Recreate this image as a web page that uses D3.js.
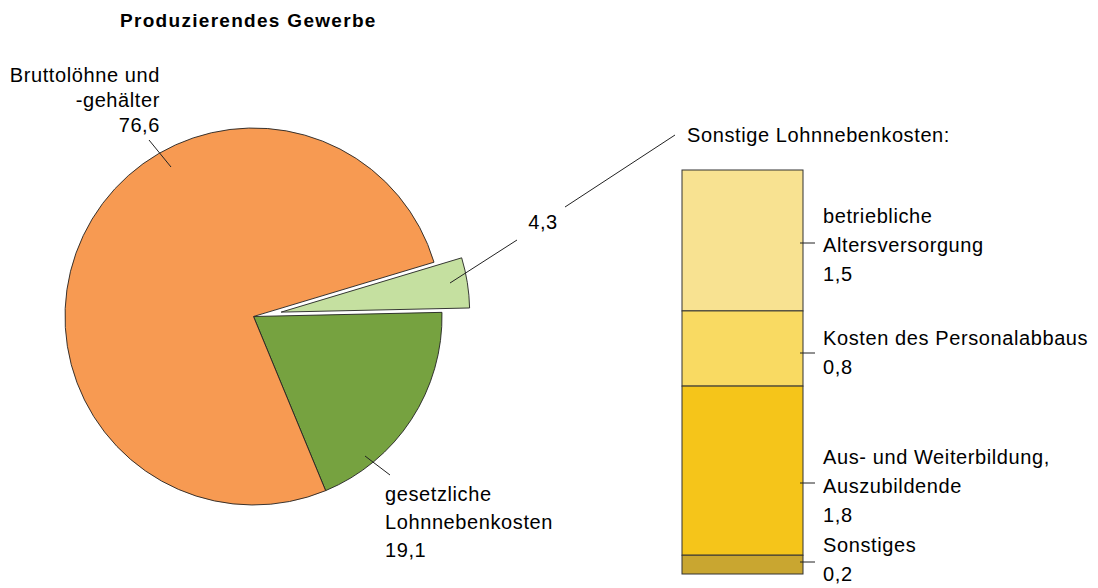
<!DOCTYPE html>
<html><head><meta charset="utf-8">
<script src="https://cdn.jsdelivr.net/npm/d3@7"></script>
<style>
html,body{margin:0;padding:0;background:#fff;}
svg text{font-family:"Liberation Sans",Arial,sans-serif;fill:#000;}
</style></head>
<body><svg id="c" width="1098" height="588"></svg>
<script>
// ---- data ----
const title = "Produzierendes Gewerbe";
const pieCategories = ["Sonstige Lohnnebenkosten", "gesetzliche Lohnnebenkosten", "Bruttolöhne und -gehälter"];
const pieValues = [4.3, 19.1, 76.6];
const pieColors = ["#C5E0A0", "#76A240", "#F79A52"];
const barCategories = ["betriebliche Altersversorgung", "Kosten des Personalabbaus", "Aus- und Weiterbildung, Auszubildende", "Sonstiges"];
const barValues = [1.5, 0.8, 1.8, 0.2];
const barColors = ["#F8E291", "#F9DA62", "#F5C51A", "#C9A630"];
const barLabelLines = [["betriebliche", "Altersversorgung", "1,5"], ["Kosten des Personalabbaus", "0,8"], ["Aus- und Weiterbildung,", "Auszubildende", "1,8"], ["Sonstiges", "0,2"]];

// ---- layout ----
const svg = d3.select("#c");
const cx = 253.5, cy = 316.5, R = 188.5, explode = 28;
const deg = Math.PI / 180;
const fs = 20, ls = 0.6;

svg.append("text").attr("x", 120).attr("y", 27).attr("font-size", 19).attr("font-weight", "bold")
  .attr("letter-spacing", 1.3).text(title);

// pie
const pie = d3.pie().sort(null).value(d => d).startAngle(73.26 * deg).endAngle(433.26 * deg);
const arcs = pie(pieValues);
const arc = d3.arc().innerRadius(0).outerRadius(R);
const g = svg.append("g").attr("transform", `translate(${cx},${cy})`);
g.selectAll("path").data(arcs).enter().append("path")
  .attr("d", arc)
  .attr("fill", (d, i) => pieColors[i])
  .attr("stroke", "#222").attr("stroke-width", 0.9).attr("stroke-linejoin", "round")
  .attr("transform", (d, i) => {
    if (i !== 0) return null;
    const m = (d.startAngle + d.endAngle) / 2;
    return `translate(${explode * Math.sin(m)},${-explode * Math.cos(m)})`;
  });

function lines(x, y0, dy, arr, anchor) {
  const t = svg.append("text").attr("font-size", fs).attr("letter-spacing", ls).attr("text-anchor", anchor || "start");
  arr.forEach((s, i) => t.append("tspan").attr("x", x).attr("y", y0 + i * dy).text(s));
}
function seg(x1, y1, x2, y2) {
  svg.append("line").attr("x1", x1).attr("y1", y1).attr("x2", x2).attr("y2", y2)
    .attr("stroke", "#222").attr("stroke-width", 1);
}

// pie labels
lines(160, 82, 25, ["Bruttolöhne und", "-gehälter", "76,6"], "end");
seg(149, 140, 171, 167);
lines(385, 501, 28, ["gesetzliche", "Lohnnebenkosten", "19,1"]);
seg(365, 456, 390, 475);
lines(543, 229, 0, ["4,3"], "middle");
seg(450, 283, 517, 240);
seg(565, 207, 675, 135);
lines(687, 142, 0, ["Sonstige Lohnnebenkosten:"]);

// stacked bar
const barX = 682, barW = 121, barTop = 170, barBottom = 574;
const total = d3.sum(barValues);
const y = d3.scaleLinear().domain([0, total]).range([barTop, barBottom]);
const cum = d3.cumsum(barValues);
const segs = barValues.map((v, i) => ({v, y0: cum[i] - v, y1: cum[i]}));
svg.append("g").selectAll("rect").data(segs).enter().append("rect")
  .attr("x", barX).attr("width", barW)
  .attr("y", d => y(d.y0)).attr("height", d => y(d.y1) - y(d.y0))
  .attr("fill", (d, i) => barColors[i])
  .attr("stroke", "#333").attr("stroke-width", 1);

// bar labels
const tickY = [243, 353, 483, 562];
const labelY0 = [223, 345, 464, 552];
barLabelLines.forEach((arr, i) => {
  seg(800, tickY[i], 815, tickY[i]);
  lines(823, labelY0[i], 29, arr);
});
</script></body></html>
